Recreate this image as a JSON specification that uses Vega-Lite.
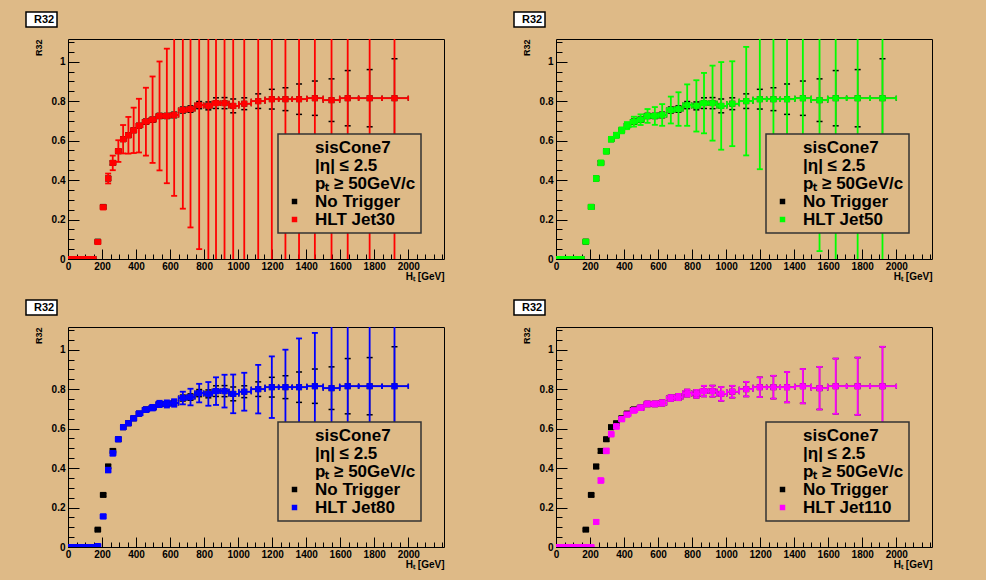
{
"$schema": "https://vega.github.io/schema/vega-lite/v6.json",
"autosize": {"type": "pad"},
"padding": {"left": 24, "top": 10, "right": 60, "bottom": 30},
"background": "#DEBA87",
"columns": 2,
"spacing": {"row": 68, "column": 112},
"bounds": "flush",
"resolve": {"scale": {"color": "independent", "strokeDash": "independent"}, "legend": {"color": "independent", "strokeDash": "independent"}},
"datasets": {"all": [
{"s":"No Trigger","x":10,"xl":0,"xh":20,"y":0,"yl":0,"yh":0},
{"s":"No Trigger","x":30,"xl":20,"xh":40,"y":0,"yl":0,"yh":0},
{"s":"No Trigger","x":50,"xl":40,"xh":60,"y":0,"yl":0,"yh":0},
{"s":"No Trigger","x":70,"xl":60,"xh":80,"y":0,"yl":0,"yh":0},
{"s":"No Trigger","x":90,"xl":80,"xh":100,"y":0,"yl":0,"yh":0},
{"s":"No Trigger","x":110,"xl":100,"xh":120,"y":0,"yl":0,"yh":0},
{"s":"No Trigger","x":130,"xl":120,"xh":140,"y":0,"yl":0,"yh":0},
{"s":"No Trigger","x":150,"xl":140,"xh":160,"y":0,"yl":0,"yh":0},
{"s":"No Trigger","x":175,"xl":160,"xh":191,"y":0.088,"yl":0.083,"yh":0.093},
{"s":"No Trigger","x":207,"xl":191,"xh":222,"y":0.264,"yl":0.256,"yh":0.272},
{"s":"No Trigger","x":236,"xl":222,"xh":250,"y":0.408,"yl":0.398,"yh":0.418},
{"s":"No Trigger","x":263,"xl":250,"xh":280,"y":0.487,"yl":0.477,"yh":0.497},
{"s":"No Trigger","x":296,"xl":280,"xh":310,"y":0.546,"yl":0.536,"yh":0.556},
{"s":"No Trigger","x":324,"xl":310,"xh":340,"y":0.607,"yl":0.597,"yh":0.617},
{"s":"No Trigger","x":355,"xl":340,"xh":370,"y":0.627,"yl":0.617,"yh":0.637},
{"s":"No Trigger","x":386,"xl":370,"xh":402,"y":0.652,"yl":0.642,"yh":0.662},
{"s":"No Trigger","x":417,"xl":402,"xh":438,"y":0.676,"yl":0.666,"yh":0.686},
{"s":"No Trigger","x":458,"xl":438,"xh":478,"y":0.696,"yl":0.684,"yh":0.708},
{"s":"No Trigger","x":497,"xl":478,"xh":518,"y":0.706,"yl":0.694,"yh":0.718},
{"s":"No Trigger","x":538,"xl":518,"xh":560,"y":0.725,"yl":0.712,"yh":0.738},
{"s":"No Trigger","x":581,"xl":560,"xh":602,"y":0.725,"yl":0.712,"yh":0.738},
{"s":"No Trigger","x":624,"xl":602,"xh":650,"y":0.73,"yl":0.716,"yh":0.744},
{"s":"No Trigger","x":675,"xl":650,"xh":698,"y":0.755,"yl":0.74,"yh":0.77},
{"s":"No Trigger","x":720,"xl":698,"xh":746,"y":0.76,"yl":0.744,"yh":0.776},
{"s":"No Trigger","x":771,"xl":746,"xh":798,"y":0.78,"yl":0.762,"yh":0.798},
{"s":"No Trigger","x":825,"xl":798,"xh":848,"y":0.776,"yl":0.756,"yh":0.796},
{"s":"No Trigger","x":870,"xl":848,"xh":895,"y":0.79,"yl":0.763,"yh":0.817},
{"s":"No Trigger","x":920,"xl":895,"xh":946,"y":0.79,"yl":0.762,"yh":0.818},
{"s":"No Trigger","x":971,"xl":946,"xh":1004,"y":0.776,"yl":0.741,"yh":0.811},
{"s":"No Trigger","x":1036,"xl":1004,"xh":1077,"y":0.787,"yl":0.757,"yh":0.817},
{"s":"No Trigger","x":1118,"xl":1077,"xh":1158,"y":0.8,"yl":0.763,"yh":0.837},
{"s":"No Trigger","x":1198,"xl":1158,"xh":1238,"y":0.81,"yl":0.76,"yh":0.86},
{"s":"No Trigger","x":1278,"xl":1238,"xh":1318,"y":0.81,"yl":0.752,"yh":0.868},
{"s":"No Trigger","x":1358,"xl":1318,"xh":1404,"y":0.81,"yl":0.733,"yh":0.887},
{"s":"No Trigger","x":1451,"xl":1404,"xh":1500,"y":0.815,"yl":0.728,"yh":0.902},
{"s":"No Trigger","x":1549,"xl":1500,"xh":1597,"y":0.805,"yl":0.697,"yh":0.913},
{"s":"No Trigger","x":1644,"xl":1597,"xh":1708,"y":0.815,"yl":0.675,"yh":0.955},
{"s":"No Trigger","x":1773,"xl":1708,"xh":1846,"y":0.815,"yl":0.67,"yh":0.96},
{"s":"No Trigger","x":1919,"xl":1846,"xh":2000,"y":0.815,"yl":0.615,"yh":1.015},

{"s":"HLT Jet30","x":10,"xl":0,"xh":20,"y":0,"yl":0,"yh":0},
{"s":"HLT Jet30","x":30,"xl":20,"xh":40,"y":0,"yl":0,"yh":0},
{"s":"HLT Jet30","x":50,"xl":40,"xh":60,"y":0,"yl":0,"yh":0},
{"s":"HLT Jet30","x":70,"xl":60,"xh":80,"y":0,"yl":0,"yh":0},
{"s":"HLT Jet30","x":90,"xl":80,"xh":100,"y":0,"yl":0,"yh":0},
{"s":"HLT Jet30","x":110,"xl":100,"xh":120,"y":0,"yl":0,"yh":0},
{"s":"HLT Jet30","x":130,"xl":120,"xh":140,"y":0,"yl":0,"yh":0},
{"s":"HLT Jet30","x":150,"xl":140,"xh":160,"y":0,"yl":0,"yh":0},
{"s":"HLT Jet30","x":175,"xl":160,"xh":191,"y":0.086,"yl":0.08,"yh":0.092},
{"s":"HLT Jet30","x":207,"xl":191,"xh":222,"y":0.262,"yl":0.252,"yh":0.272},
{"s":"HLT Jet30","x":236,"xl":222,"xh":250,"y":0.408,"yl":0.383,"yh":0.433},
{"s":"HLT Jet30","x":263,"xl":250,"xh":280,"y":0.487,"yl":0.45,"yh":0.524},
{"s":"HLT Jet30","x":296,"xl":280,"xh":310,"y":0.547,"yl":0.492,"yh":0.602},
{"s":"HLT Jet30","x":324,"xl":310,"xh":340,"y":0.607,"yl":0.535,"yh":0.679},
{"s":"HLT Jet30","x":355,"xl":340,"xh":370,"y":0.627,"yl":0.534,"yh":0.72},
{"s":"HLT Jet30","x":386,"xl":370,"xh":402,"y":0.652,"yl":0.537,"yh":0.767},
{"s":"HLT Jet30","x":417,"xl":402,"xh":438,"y":0.676,"yl":0.54,"yh":0.812},
{"s":"HLT Jet30","x":458,"xl":438,"xh":478,"y":0.696,"yl":0.524,"yh":0.868},
{"s":"HLT Jet30","x":497,"xl":478,"xh":518,"y":0.706,"yl":0.487,"yh":0.925},
{"s":"HLT Jet30","x":538,"xl":518,"xh":560,"y":0.725,"yl":0.449,"yh":1.001},
{"s":"HLT Jet30","x":581,"xl":560,"xh":602,"y":0.725,"yl":0.384,"yh":1.066},
{"s":"HLT Jet30","x":624,"xl":602,"xh":650,"y":0.73,"yl":0.32,"yh":1.14},
{"s":"HLT Jet30","x":675,"xl":650,"xh":698,"y":0.755,"yl":0.255,"yh":1.255},
{"s":"HLT Jet30","x":720,"xl":698,"xh":746,"y":0.76,"yl":0.16,"yh":1.36},
{"s":"HLT Jet30","x":771,"xl":746,"xh":798,"y":0.78,"yl":0.05,"yh":1.51},
{"s":"HLT Jet30","x":825,"xl":798,"xh":848,"y":0.776,"yl":-0.1,"yh":1.7},
{"s":"HLT Jet30","x":870,"xl":848,"xh":895,"y":0.79,"yl":-0.15,"yh":1.73},
{"s":"HLT Jet30","x":920,"xl":895,"xh":946,"y":0.79,"yl":-0.2,"yh":1.78},
{"s":"HLT Jet30","x":971,"xl":946,"xh":1004,"y":0.776,"yl":-0.25,"yh":1.8},
{"s":"HLT Jet30","x":1036,"xl":1004,"xh":1077,"y":0.787,"yl":-0.25,"yh":1.82},
{"s":"HLT Jet30","x":1118,"xl":1077,"xh":1158,"y":0.8,"yl":-0.3,"yh":1.9},
{"s":"HLT Jet30","x":1198,"xl":1158,"xh":1238,"y":0.81,"yl":-0.3,"yh":1.92},
{"s":"HLT Jet30","x":1278,"xl":1238,"xh":1318,"y":0.81,"yl":-0.35,"yh":1.97},
{"s":"HLT Jet30","x":1358,"xl":1318,"xh":1404,"y":0.81,"yl":-0.35,"yh":1.97},
{"s":"HLT Jet30","x":1451,"xl":1404,"xh":1500,"y":0.815,"yl":-0.4,"yh":2.03},
{"s":"HLT Jet30","x":1549,"xl":1500,"xh":1597,"y":0.805,"yl":-0.4,"yh":2.01},
{"s":"HLT Jet30","x":1644,"xl":1597,"xh":1708,"y":0.815,"yl":-0.45,"yh":2.08},
{"s":"HLT Jet30","x":1773,"xl":1708,"xh":1846,"y":0.815,"yl":-0.5,"yh":2.13},
{"s":"HLT Jet30","x":1919,"xl":1846,"xh":2000,"y":0.815,"yl":-0.6,"yh":2.23},

{"s":"HLT Jet50","x":10,"xl":0,"xh":20,"y":0,"yl":0,"yh":0},
{"s":"HLT Jet50","x":30,"xl":20,"xh":40,"y":0,"yl":0,"yh":0},
{"s":"HLT Jet50","x":50,"xl":40,"xh":60,"y":0,"yl":0,"yh":0},
{"s":"HLT Jet50","x":70,"xl":60,"xh":80,"y":0,"yl":0,"yh":0},
{"s":"HLT Jet50","x":90,"xl":80,"xh":100,"y":0,"yl":0,"yh":0},
{"s":"HLT Jet50","x":110,"xl":100,"xh":120,"y":0,"yl":0,"yh":0},
{"s":"HLT Jet50","x":130,"xl":120,"xh":140,"y":0,"yl":0,"yh":0},
{"s":"HLT Jet50","x":150,"xl":140,"xh":160,"y":0,"yl":0,"yh":0},
{"s":"HLT Jet50","x":175,"xl":160,"xh":191,"y":0.088,"yl":0.082,"yh":0.094},
{"s":"HLT Jet50","x":207,"xl":191,"xh":222,"y":0.264,"yl":0.254,"yh":0.274},
{"s":"HLT Jet50","x":236,"xl":222,"xh":250,"y":0.408,"yl":0.396,"yh":0.42},
{"s":"HLT Jet50","x":263,"xl":250,"xh":280,"y":0.487,"yl":0.475,"yh":0.499},
{"s":"HLT Jet50","x":296,"xl":280,"xh":310,"y":0.546,"yl":0.534,"yh":0.558},
{"s":"HLT Jet50","x":324,"xl":310,"xh":340,"y":0.607,"yl":0.595,"yh":0.619},
{"s":"HLT Jet50","x":355,"xl":340,"xh":370,"y":0.627,"yl":0.614,"yh":0.64},
{"s":"HLT Jet50","x":386,"xl":370,"xh":402,"y":0.652,"yl":0.637,"yh":0.667},
{"s":"HLT Jet50","x":417,"xl":402,"xh":438,"y":0.676,"yl":0.658,"yh":0.694},
{"s":"HLT Jet50","x":458,"xl":438,"xh":478,"y":0.696,"yl":0.671,"yh":0.721},
{"s":"HLT Jet50","x":497,"xl":478,"xh":518,"y":0.706,"yl":0.679,"yh":0.733},
{"s":"HLT Jet50","x":538,"xl":518,"xh":560,"y":0.725,"yl":0.69,"yh":0.76},
{"s":"HLT Jet50","x":581,"xl":560,"xh":602,"y":0.725,"yl":0.68,"yh":0.77},
{"s":"HLT Jet50","x":624,"xl":602,"xh":650,"y":0.73,"yl":0.675,"yh":0.785},
{"s":"HLT Jet50","x":675,"xl":650,"xh":698,"y":0.755,"yl":0.687,"yh":0.823},
{"s":"HLT Jet50","x":720,"xl":698,"xh":746,"y":0.76,"yl":0.675,"yh":0.845},
{"s":"HLT Jet50","x":771,"xl":746,"xh":798,"y":0.78,"yl":0.675,"yh":0.885},
{"s":"HLT Jet50","x":825,"xl":798,"xh":848,"y":0.776,"yl":0.646,"yh":0.906},
{"s":"HLT Jet50","x":870,"xl":848,"xh":895,"y":0.79,"yl":0.637,"yh":0.943},
{"s":"HLT Jet50","x":920,"xl":895,"xh":946,"y":0.79,"yl":0.6,"yh":0.98},
{"s":"HLT Jet50","x":971,"xl":946,"xh":1004,"y":0.776,"yl":0.554,"yh":0.998},
{"s":"HLT Jet50","x":1036,"xl":1004,"xh":1077,"y":0.787,"yl":0.572,"yh":1.002},
{"s":"HLT Jet50","x":1118,"xl":1077,"xh":1158,"y":0.8,"yl":0.525,"yh":1.075},
{"s":"HLT Jet50","x":1198,"xl":1158,"xh":1238,"y":0.81,"yl":0.455,"yh":1.165},
{"s":"HLT Jet50","x":1278,"xl":1238,"xh":1318,"y":0.81,"yl":0.36,"yh":1.26},
{"s":"HLT Jet50","x":1358,"xl":1318,"xh":1404,"y":0.81,"yl":0.26,"yh":1.36},
{"s":"HLT Jet50","x":1451,"xl":1404,"xh":1500,"y":0.815,"yl":0.165,"yh":1.465},
{"s":"HLT Jet50","x":1549,"xl":1500,"xh":1597,"y":0.805,"yl":0.04,"yh":1.57},
{"s":"HLT Jet50","x":1644,"xl":1597,"xh":1708,"y":0.815,"yl":-0.085,"yh":1.715},
{"s":"HLT Jet50","x":1773,"xl":1708,"xh":1846,"y":0.815,"yl":-0.135,"yh":1.765},
{"s":"HLT Jet50","x":1919,"xl":1846,"xh":2000,"y":0.815,"yl":-0.285,"yh":1.915},

{"s":"HLT Jet80","x":10,"xl":0,"xh":20,"y":0,"yl":0,"yh":0},
{"s":"HLT Jet80","x":30,"xl":20,"xh":40,"y":0,"yl":0,"yh":0},
{"s":"HLT Jet80","x":50,"xl":40,"xh":60,"y":0,"yl":0,"yh":0},
{"s":"HLT Jet80","x":70,"xl":60,"xh":80,"y":0,"yl":0,"yh":0},
{"s":"HLT Jet80","x":90,"xl":80,"xh":100,"y":0,"yl":0,"yh":0},
{"s":"HLT Jet80","x":110,"xl":100,"xh":120,"y":0,"yl":0,"yh":0},
{"s":"HLT Jet80","x":130,"xl":120,"xh":140,"y":0,"yl":0,"yh":0},
{"s":"HLT Jet80","x":150,"xl":140,"xh":160,"y":0,"yl":0,"yh":0},
{"s":"HLT Jet80","x":175,"xl":160,"xh":191,"y":0.005,"yl":0.002,"yh":0.008},
{"s":"HLT Jet80","x":207,"xl":191,"xh":222,"y":0.155,"yl":0.145,"yh":0.165},
{"s":"HLT Jet80","x":236,"xl":222,"xh":250,"y":0.39,"yl":0.378,"yh":0.402},
{"s":"HLT Jet80","x":263,"xl":250,"xh":280,"y":0.475,"yl":0.463,"yh":0.487},
{"s":"HLT Jet80","x":296,"xl":280,"xh":310,"y":0.546,"yl":0.536,"yh":0.556},
{"s":"HLT Jet80","x":324,"xl":310,"xh":340,"y":0.607,"yl":0.597,"yh":0.617},
{"s":"HLT Jet80","x":355,"xl":340,"xh":370,"y":0.627,"yl":0.617,"yh":0.637},
{"s":"HLT Jet80","x":386,"xl":370,"xh":402,"y":0.652,"yl":0.642,"yh":0.662},
{"s":"HLT Jet80","x":417,"xl":402,"xh":438,"y":0.676,"yl":0.665,"yh":0.687},
{"s":"HLT Jet80","x":458,"xl":438,"xh":478,"y":0.696,"yl":0.684,"yh":0.708},
{"s":"HLT Jet80","x":497,"xl":478,"xh":518,"y":0.706,"yl":0.692,"yh":0.72},
{"s":"HLT Jet80","x":538,"xl":518,"xh":560,"y":0.725,"yl":0.709,"yh":0.741},
{"s":"HLT Jet80","x":581,"xl":560,"xh":602,"y":0.725,"yl":0.707,"yh":0.743},
{"s":"HLT Jet80","x":624,"xl":602,"xh":650,"y":0.73,"yl":0.711,"yh":0.749},
{"s":"HLT Jet80","x":675,"xl":650,"xh":698,"y":0.755,"yl":0.723,"yh":0.787},
{"s":"HLT Jet80","x":720,"xl":698,"xh":746,"y":0.76,"yl":0.718,"yh":0.802},
{"s":"HLT Jet80","x":771,"xl":746,"xh":798,"y":0.78,"yl":0.733,"yh":0.827},
{"s":"HLT Jet80","x":825,"xl":798,"xh":848,"y":0.776,"yl":0.716,"yh":0.836},
{"s":"HLT Jet80","x":870,"xl":848,"xh":895,"y":0.79,"yl":0.72,"yh":0.86},
{"s":"HLT Jet80","x":920,"xl":895,"xh":946,"y":0.79,"yl":0.707,"yh":0.873},
{"s":"HLT Jet80","x":971,"xl":946,"xh":1004,"y":0.776,"yl":0.678,"yh":0.874},
{"s":"HLT Jet80","x":1036,"xl":1004,"xh":1077,"y":0.787,"yl":0.691,"yh":0.883},
{"s":"HLT Jet80","x":1118,"xl":1077,"xh":1158,"y":0.8,"yl":0.677,"yh":0.923},
{"s":"HLT Jet80","x":1198,"xl":1158,"xh":1238,"y":0.81,"yl":0.654,"yh":0.966},
{"s":"HLT Jet80","x":1278,"xl":1238,"xh":1318,"y":0.81,"yl":0.62,"yh":1.0},
{"s":"HLT Jet80","x":1358,"xl":1318,"xh":1404,"y":0.81,"yl":0.563,"yh":1.057},
{"s":"HLT Jet80","x":1451,"xl":1404,"xh":1500,"y":0.815,"yl":0.545,"yh":1.085},
{"s":"HLT Jet80","x":1549,"xl":1500,"xh":1597,"y":0.805,"yl":0.455,"yh":1.155},
{"s":"HLT Jet80","x":1644,"xl":1597,"xh":1708,"y":0.815,"yl":0.415,"yh":1.215},
{"s":"HLT Jet80","x":1773,"xl":1708,"xh":1846,"y":0.815,"yl":0.395,"yh":1.235},
{"s":"HLT Jet80","x":1919,"xl":1846,"xh":2000,"y":0.815,"yl":0.345,"yh":1.285},

{"s":"HLT Jet110","x":10,"xl":0,"xh":20,"y":0,"yl":0,"yh":0},
{"s":"HLT Jet110","x":30,"xl":20,"xh":40,"y":0,"yl":0,"yh":0},
{"s":"HLT Jet110","x":50,"xl":40,"xh":60,"y":0,"yl":0,"yh":0},
{"s":"HLT Jet110","x":70,"xl":60,"xh":80,"y":0,"yl":0,"yh":0},
{"s":"HLT Jet110","x":90,"xl":80,"xh":100,"y":0,"yl":0,"yh":0},
{"s":"HLT Jet110","x":110,"xl":100,"xh":120,"y":0,"yl":0,"yh":0},
{"s":"HLT Jet110","x":130,"xl":120,"xh":140,"y":0,"yl":0,"yh":0},
{"s":"HLT Jet110","x":150,"xl":140,"xh":160,"y":0,"yl":0,"yh":0},
{"s":"HLT Jet110","x":175,"xl":160,"xh":191,"y":0,"yl":0,"yh":0},
{"s":"HLT Jet110","x":207,"xl":191,"xh":222,"y":0,"yl":0,"yh":0},
{"s":"HLT Jet110","x":236,"xl":222,"xh":250,"y":0.127,"yl":0.117,"yh":0.137},
{"s":"HLT Jet110","x":263,"xl":250,"xh":280,"y":0.337,"yl":0.325,"yh":0.349},
{"s":"HLT Jet110","x":296,"xl":280,"xh":310,"y":0.487,"yl":0.475,"yh":0.499},
{"s":"HLT Jet110","x":324,"xl":310,"xh":340,"y":0.572,"yl":0.56,"yh":0.584},
{"s":"HLT Jet110","x":355,"xl":340,"xh":370,"y":0.611,"yl":0.599,"yh":0.623},
{"s":"HLT Jet110","x":386,"xl":370,"xh":402,"y":0.648,"yl":0.637,"yh":0.659},
{"s":"HLT Jet110","x":417,"xl":402,"xh":438,"y":0.671,"yl":0.66,"yh":0.682},
{"s":"HLT Jet110","x":458,"xl":438,"xh":478,"y":0.692,"yl":0.68,"yh":0.704},
{"s":"HLT Jet110","x":497,"xl":478,"xh":518,"y":0.706,"yl":0.694,"yh":0.718},
{"s":"HLT Jet110","x":538,"xl":518,"xh":560,"y":0.725,"yl":0.712,"yh":0.738},
{"s":"HLT Jet110","x":581,"xl":560,"xh":602,"y":0.725,"yl":0.712,"yh":0.738},
{"s":"HLT Jet110","x":624,"xl":602,"xh":650,"y":0.73,"yl":0.716,"yh":0.744},
{"s":"HLT Jet110","x":675,"xl":650,"xh":698,"y":0.755,"yl":0.74,"yh":0.77},
{"s":"HLT Jet110","x":720,"xl":698,"xh":746,"y":0.76,"yl":0.744,"yh":0.776},
{"s":"HLT Jet110","x":771,"xl":746,"xh":798,"y":0.78,"yl":0.762,"yh":0.798},
{"s":"HLT Jet110","x":825,"xl":798,"xh":848,"y":0.776,"yl":0.756,"yh":0.796},
{"s":"HLT Jet110","x":870,"xl":848,"xh":895,"y":0.79,"yl":0.763,"yh":0.817},
{"s":"HLT Jet110","x":920,"xl":895,"xh":946,"y":0.79,"yl":0.762,"yh":0.818},
{"s":"HLT Jet110","x":971,"xl":946,"xh":1004,"y":0.776,"yl":0.741,"yh":0.811},
{"s":"HLT Jet110","x":1036,"xl":1004,"xh":1077,"y":0.787,"yl":0.757,"yh":0.817},
{"s":"HLT Jet110","x":1118,"xl":1077,"xh":1158,"y":0.8,"yl":0.763,"yh":0.837},
{"s":"HLT Jet110","x":1198,"xl":1158,"xh":1238,"y":0.81,"yl":0.76,"yh":0.86},
{"s":"HLT Jet110","x":1278,"xl":1238,"xh":1318,"y":0.81,"yl":0.752,"yh":0.868},
{"s":"HLT Jet110","x":1358,"xl":1318,"xh":1404,"y":0.81,"yl":0.733,"yh":0.887},
{"s":"HLT Jet110","x":1451,"xl":1404,"xh":1500,"y":0.815,"yl":0.728,"yh":0.902},
{"s":"HLT Jet110","x":1549,"xl":1500,"xh":1597,"y":0.805,"yl":0.697,"yh":0.913},
{"s":"HLT Jet110","x":1644,"xl":1597,"xh":1708,"y":0.815,"yl":0.675,"yh":0.955},
{"s":"HLT Jet110","x":1773,"xl":1708,"xh":1846,"y":0.815,"yl":0.67,"yh":0.96},
{"s":"HLT Jet110","x":1919,"xl":1846,"xh":2000,"y":0.815,"yl":0.615,"yh":1.015}
]},
"concat": [
{
 "width": 376, "height": 220,
 "data": {"name": "all"},
 "resolve": {"axis": {"x": "independent", "y": "independent"}},
 "encoding": {
  "color": {"field": "s", "type": "nominal",
   "scale": {"domain": ["sisCone7", "|η| ≤ 2.5", "pₜ ≥ 50GeV/c", "No Trigger", "HLT Jet30"], "range": ["transparent", "transparent", "transparent", "#000000", "#FF0000"]},
   "legend": {"orient": "none", "legendX": 210, "legendY": 95, "title": null, "fillColor": "#DEBA87", "strokeColor": "#333333", "padding": 5, "rowPadding": 0, "symbolType": "square", "symbolSize": 30, "symbolStrokeWidth": 0, "symbolOffset": 3, "labelOffset": 12, "labelFontSize": 17, "labelFontWeight": "bold", "labelColor": "black", "labelLimit": 300}}},
 "layer": [
  {"transform": [{"filter": "datum.s == 'No Trigger'"}],
   "resolve": {"axis": {"x": "independent", "y": "independent"}},
   "layer": [
    {"mark": {"type": "rule", "clip": true, "strokeWidth": 1.3},
     "encoding": {
      "x": {"field": "x", "type": "quantitative", "scale": {"domain": [0, 2210], "nice": false, "zero": false},
        "axis": {"title": "Hₜ [GeV]", "values": [0,200,400,600,800,1000,1200,1400,1600,1800,2000], "format": "d", "tickSize": -10, "labelPadding": 12}},
      "y": {"field": "yl", "type": "quantitative", "scale": {"domain": [0, 1.115], "nice": false, "zero": false},
        "axis": {"title": "R32", "values": [0,0.2,0.4,0.6,0.8,1], "format": "~g", "tickSize": -11, "labelPadding": 14}},
      "y2": {"field": "yh"},
      "strokeDash": {"datum": "R32", "scale": {"domain": ["R32"], "range": [[1, 0]]},
        "legend": {"orient": "none", "legendX": -42, "legendY": -27, "title": null, "fillColor": "white", "strokeColor": "black", "padding": 2, "symbolSize": 0, "symbolStrokeWidth": 0, "symbolOpacity": 0, "symbolOffset": 0, "labelOffset": -5, "labelFontSize": 11, "labelFontWeight": "bold", "labelColor": "black"}}}},
    {"mark": {"type": "rule", "clip": true, "strokeWidth": 1.3},
     "encoding": {"x": {"field": "xl", "type": "quantitative", "axis": {"orient": "bottom", "title": null, "labels": false, "tickSize": -5, "values": [0,50,100,150,200,250,300,350,400,450,500,550,600,650,700,750,800,850,900,950,1000,1050,1100,1150,1200,1250,1300,1350,1400,1450,1500,1550,1600,1650,1700,1750,1800,1850,1900,1950,2000,2050,2100,2150,2200]}}, "x2": {"field": "xh"},
      "y": {"field": "y", "type": "quantitative", "axis": {"orient": "left", "title": null, "labels": false, "tickSize": -6, "values": [0,0.05,0.1,0.15,0.2,0.25,0.3,0.35,0.4,0.45,0.5,0.55,0.6,0.65,0.7,0.75,0.8,0.85,0.9,0.95,1,1.05,1.1]}}}},
    {"transform": [{"fold": ["yl", "yh"], "as": ["k", "yc"]}],
     "mark": {"type": "tick", "orient": "horizontal", "clip": true, "size": 6, "thickness": 1.5, "opacity": 1},
     "encoding": {"x": {"field": "x", "type": "quantitative", "axis": null}, "y": {"field": "yc", "type": "quantitative", "axis": null}}},
    {"transform": [{"fold": ["xl", "xh"], "as": ["k", "xc"]}],
     "mark": {"type": "tick", "orient": "vertical", "clip": true, "size": 5, "thickness": 1.3, "opacity": 1},
     "encoding": {"x": {"field": "xc", "type": "quantitative", "axis": null}, "y": {"field": "y", "type": "quantitative", "axis": null}}},
    {"mark": {"type": "square", "clip": true, "size": 36, "opacity": 1},
     "encoding": {"x": {"field": "x", "type": "quantitative", "axis": null}, "y": {"field": "y", "type": "quantitative", "axis": null}}}
   ]},
  {"transform": [{"filter": "datum.s == 'HLT Jet30'"}],
   "layer": [
    {"mark": {"type": "rule", "clip": true, "strokeWidth": 1.8},
     "encoding": {"x": {"field": "x", "type": "quantitative", "axis": null}, "y": {"field": "yl", "type": "quantitative", "axis": null}, "y2": {"field": "yh"}}},
    {"mark": {"type": "rule", "clip": true, "strokeWidth": 1.8},
     "encoding": {"x": {"field": "xl", "type": "quantitative", "axis": null}, "x2": {"field": "xh"}, "y": {"field": "y", "type": "quantitative", "axis": null}}},
    {"transform": [{"fold": ["yl", "yh"], "as": ["k", "yc"]}],
     "mark": {"type": "tick", "orient": "horizontal", "clip": true, "size": 6, "thickness": 1.8, "opacity": 1},
     "encoding": {"x": {"field": "x", "type": "quantitative", "axis": null}, "y": {"field": "yc", "type": "quantitative", "axis": null}}},
    {"transform": [{"fold": ["xl", "xh"], "as": ["k", "xc"]}],
     "mark": {"type": "tick", "orient": "vertical", "clip": true, "size": 5, "thickness": 1.6, "opacity": 1},
     "encoding": {"x": {"field": "xc", "type": "quantitative", "axis": null}, "y": {"field": "y", "type": "quantitative", "axis": null}}},
    {"mark": {"type": "square", "clip": true, "size": 36, "opacity": 1},
     "encoding": {"x": {"field": "x", "type": "quantitative", "axis": null}, "y": {"field": "y", "type": "quantitative", "axis": null}}}
   ]}
 ]
},
{
 "width": 376, "height": 220,
 "data": {"name": "all"},
 "resolve": {"axis": {"x": "independent", "y": "independent"}},
 "encoding": {
  "color": {"field": "s", "type": "nominal",
   "scale": {"domain": ["sisCone7", "|η| ≤ 2.5", "pₜ ≥ 50GeV/c", "No Trigger", "HLT Jet50"], "range": ["transparent", "transparent", "transparent", "#000000", "#00FF00"]},
   "legend": {"orient": "none", "legendX": 210, "legendY": 95, "title": null, "fillColor": "#DEBA87", "strokeColor": "#333333", "padding": 5, "rowPadding": 0, "symbolType": "square", "symbolSize": 30, "symbolStrokeWidth": 0, "symbolOffset": 3, "labelOffset": 12, "labelFontSize": 17, "labelFontWeight": "bold", "labelColor": "black", "labelLimit": 300}}},
 "layer": [
  {"transform": [{"filter": "datum.s == 'No Trigger'"}],
   "resolve": {"axis": {"x": "independent", "y": "independent"}},
   "layer": [
    {"mark": {"type": "rule", "clip": true, "strokeWidth": 1.3},
     "encoding": {
      "x": {"field": "x", "type": "quantitative", "scale": {"domain": [0, 2210], "nice": false, "zero": false},
        "axis": {"title": "Hₜ [GeV]", "values": [0,200,400,600,800,1000,1200,1400,1600,1800,2000], "format": "d", "tickSize": -10, "labelPadding": 12}},
      "y": {"field": "yl", "type": "quantitative", "scale": {"domain": [0, 1.115], "nice": false, "zero": false},
        "axis": {"title": "R32", "values": [0,0.2,0.4,0.6,0.8,1], "format": "~g", "tickSize": -11, "labelPadding": 14}},
      "y2": {"field": "yh"},
      "strokeDash": {"datum": "R32", "scale": {"domain": ["R32"], "range": [[1, 0]]},
        "legend": {"orient": "none", "legendX": -42, "legendY": -27, "title": null, "fillColor": "white", "strokeColor": "black", "padding": 2, "symbolSize": 0, "symbolStrokeWidth": 0, "symbolOpacity": 0, "symbolOffset": 0, "labelOffset": -5, "labelFontSize": 11, "labelFontWeight": "bold", "labelColor": "black"}}}},
    {"mark": {"type": "rule", "clip": true, "strokeWidth": 1.3},
     "encoding": {"x": {"field": "xl", "type": "quantitative", "axis": {"orient": "bottom", "title": null, "labels": false, "tickSize": -5, "values": [0,50,100,150,200,250,300,350,400,450,500,550,600,650,700,750,800,850,900,950,1000,1050,1100,1150,1200,1250,1300,1350,1400,1450,1500,1550,1600,1650,1700,1750,1800,1850,1900,1950,2000,2050,2100,2150,2200]}}, "x2": {"field": "xh"},
      "y": {"field": "y", "type": "quantitative", "axis": {"orient": "left", "title": null, "labels": false, "tickSize": -6, "values": [0,0.05,0.1,0.15,0.2,0.25,0.3,0.35,0.4,0.45,0.5,0.55,0.6,0.65,0.7,0.75,0.8,0.85,0.9,0.95,1,1.05,1.1]}}}},
    {"transform": [{"fold": ["yl", "yh"], "as": ["k", "yc"]}],
     "mark": {"type": "tick", "orient": "horizontal", "clip": true, "size": 6, "thickness": 1.5, "opacity": 1},
     "encoding": {"x": {"field": "x", "type": "quantitative", "axis": null}, "y": {"field": "yc", "type": "quantitative", "axis": null}}},
    {"transform": [{"fold": ["xl", "xh"], "as": ["k", "xc"]}],
     "mark": {"type": "tick", "orient": "vertical", "clip": true, "size": 5, "thickness": 1.3, "opacity": 1},
     "encoding": {"x": {"field": "xc", "type": "quantitative", "axis": null}, "y": {"field": "y", "type": "quantitative", "axis": null}}},
    {"mark": {"type": "square", "clip": true, "size": 36, "opacity": 1},
     "encoding": {"x": {"field": "x", "type": "quantitative", "axis": null}, "y": {"field": "y", "type": "quantitative", "axis": null}}}
   ]},
  {"transform": [{"filter": "datum.s == 'HLT Jet50'"}],
   "layer": [
    {"mark": {"type": "rule", "clip": true, "strokeWidth": 1.8},
     "encoding": {"x": {"field": "x", "type": "quantitative", "axis": null}, "y": {"field": "yl", "type": "quantitative", "axis": null}, "y2": {"field": "yh"}}},
    {"mark": {"type": "rule", "clip": true, "strokeWidth": 1.8},
     "encoding": {"x": {"field": "xl", "type": "quantitative", "axis": null}, "x2": {"field": "xh"}, "y": {"field": "y", "type": "quantitative", "axis": null}}},
    {"transform": [{"fold": ["yl", "yh"], "as": ["k", "yc"]}],
     "mark": {"type": "tick", "orient": "horizontal", "clip": true, "size": 6, "thickness": 1.8, "opacity": 1},
     "encoding": {"x": {"field": "x", "type": "quantitative", "axis": null}, "y": {"field": "yc", "type": "quantitative", "axis": null}}},
    {"transform": [{"fold": ["xl", "xh"], "as": ["k", "xc"]}],
     "mark": {"type": "tick", "orient": "vertical", "clip": true, "size": 5, "thickness": 1.6, "opacity": 1},
     "encoding": {"x": {"field": "xc", "type": "quantitative", "axis": null}, "y": {"field": "y", "type": "quantitative", "axis": null}}},
    {"mark": {"type": "square", "clip": true, "size": 36, "opacity": 1},
     "encoding": {"x": {"field": "x", "type": "quantitative", "axis": null}, "y": {"field": "y", "type": "quantitative", "axis": null}}}
   ]}
 ]
},
{
 "width": 376, "height": 220,
 "data": {"name": "all"},
 "resolve": {"axis": {"x": "independent", "y": "independent"}},
 "encoding": {
  "color": {"field": "s", "type": "nominal",
   "scale": {"domain": ["sisCone7", "|η| ≤ 2.5", "pₜ ≥ 50GeV/c", "No Trigger", "HLT Jet80"], "range": ["transparent", "transparent", "transparent", "#000000", "#0000FF"]},
   "legend": {"orient": "none", "legendX": 210, "legendY": 95, "title": null, "fillColor": "#DEBA87", "strokeColor": "#333333", "padding": 5, "rowPadding": 0, "symbolType": "square", "symbolSize": 30, "symbolStrokeWidth": 0, "symbolOffset": 3, "labelOffset": 12, "labelFontSize": 17, "labelFontWeight": "bold", "labelColor": "black", "labelLimit": 300}}},
 "layer": [
  {"transform": [{"filter": "datum.s == 'No Trigger'"}],
   "resolve": {"axis": {"x": "independent", "y": "independent"}},
   "layer": [
    {"mark": {"type": "rule", "clip": true, "strokeWidth": 1.3},
     "encoding": {
      "x": {"field": "x", "type": "quantitative", "scale": {"domain": [0, 2210], "nice": false, "zero": false},
        "axis": {"title": "Hₜ [GeV]", "values": [0,200,400,600,800,1000,1200,1400,1600,1800,2000], "format": "d", "tickSize": -10, "labelPadding": 12}},
      "y": {"field": "yl", "type": "quantitative", "scale": {"domain": [0, 1.115], "nice": false, "zero": false},
        "axis": {"title": "R32", "values": [0,0.2,0.4,0.6,0.8,1], "format": "~g", "tickSize": -11, "labelPadding": 14}},
      "y2": {"field": "yh"},
      "strokeDash": {"datum": "R32", "scale": {"domain": ["R32"], "range": [[1, 0]]},
        "legend": {"orient": "none", "legendX": -42, "legendY": -27, "title": null, "fillColor": "white", "strokeColor": "black", "padding": 2, "symbolSize": 0, "symbolStrokeWidth": 0, "symbolOpacity": 0, "symbolOffset": 0, "labelOffset": -5, "labelFontSize": 11, "labelFontWeight": "bold", "labelColor": "black"}}}},
    {"mark": {"type": "rule", "clip": true, "strokeWidth": 1.3},
     "encoding": {"x": {"field": "xl", "type": "quantitative", "axis": {"orient": "bottom", "title": null, "labels": false, "tickSize": -5, "values": [0,50,100,150,200,250,300,350,400,450,500,550,600,650,700,750,800,850,900,950,1000,1050,1100,1150,1200,1250,1300,1350,1400,1450,1500,1550,1600,1650,1700,1750,1800,1850,1900,1950,2000,2050,2100,2150,2200]}}, "x2": {"field": "xh"},
      "y": {"field": "y", "type": "quantitative", "axis": {"orient": "left", "title": null, "labels": false, "tickSize": -6, "values": [0,0.05,0.1,0.15,0.2,0.25,0.3,0.35,0.4,0.45,0.5,0.55,0.6,0.65,0.7,0.75,0.8,0.85,0.9,0.95,1,1.05,1.1]}}}},
    {"transform": [{"fold": ["yl", "yh"], "as": ["k", "yc"]}],
     "mark": {"type": "tick", "orient": "horizontal", "clip": true, "size": 6, "thickness": 1.5, "opacity": 1},
     "encoding": {"x": {"field": "x", "type": "quantitative", "axis": null}, "y": {"field": "yc", "type": "quantitative", "axis": null}}},
    {"transform": [{"fold": ["xl", "xh"], "as": ["k", "xc"]}],
     "mark": {"type": "tick", "orient": "vertical", "clip": true, "size": 5, "thickness": 1.3, "opacity": 1},
     "encoding": {"x": {"field": "xc", "type": "quantitative", "axis": null}, "y": {"field": "y", "type": "quantitative", "axis": null}}},
    {"mark": {"type": "square", "clip": true, "size": 36, "opacity": 1},
     "encoding": {"x": {"field": "x", "type": "quantitative", "axis": null}, "y": {"field": "y", "type": "quantitative", "axis": null}}}
   ]},
  {"transform": [{"filter": "datum.s == 'HLT Jet80'"}],
   "layer": [
    {"mark": {"type": "rule", "clip": true, "strokeWidth": 1.8},
     "encoding": {"x": {"field": "x", "type": "quantitative", "axis": null}, "y": {"field": "yl", "type": "quantitative", "axis": null}, "y2": {"field": "yh"}}},
    {"mark": {"type": "rule", "clip": true, "strokeWidth": 1.8},
     "encoding": {"x": {"field": "xl", "type": "quantitative", "axis": null}, "x2": {"field": "xh"}, "y": {"field": "y", "type": "quantitative", "axis": null}}},
    {"transform": [{"fold": ["yl", "yh"], "as": ["k", "yc"]}],
     "mark": {"type": "tick", "orient": "horizontal", "clip": true, "size": 6, "thickness": 1.8, "opacity": 1},
     "encoding": {"x": {"field": "x", "type": "quantitative", "axis": null}, "y": {"field": "yc", "type": "quantitative", "axis": null}}},
    {"transform": [{"fold": ["xl", "xh"], "as": ["k", "xc"]}],
     "mark": {"type": "tick", "orient": "vertical", "clip": true, "size": 5, "thickness": 1.6, "opacity": 1},
     "encoding": {"x": {"field": "xc", "type": "quantitative", "axis": null}, "y": {"field": "y", "type": "quantitative", "axis": null}}},
    {"mark": {"type": "square", "clip": true, "size": 36, "opacity": 1},
     "encoding": {"x": {"field": "x", "type": "quantitative", "axis": null}, "y": {"field": "y", "type": "quantitative", "axis": null}}}
   ]}
 ]
},
{
 "width": 376, "height": 220,
 "data": {"name": "all"},
 "resolve": {"axis": {"x": "independent", "y": "independent"}},
 "encoding": {
  "color": {"field": "s", "type": "nominal",
   "scale": {"domain": ["sisCone7", "|η| ≤ 2.5", "pₜ ≥ 50GeV/c", "No Trigger", "HLT Jet110"], "range": ["transparent", "transparent", "transparent", "#000000", "#FF00FF"]},
   "legend": {"orient": "none", "legendX": 210, "legendY": 95, "title": null, "fillColor": "#DEBA87", "strokeColor": "#333333", "padding": 5, "rowPadding": 0, "symbolType": "square", "symbolSize": 30, "symbolStrokeWidth": 0, "symbolOffset": 3, "labelOffset": 12, "labelFontSize": 17, "labelFontWeight": "bold", "labelColor": "black", "labelLimit": 300}}},
 "layer": [
  {"transform": [{"filter": "datum.s == 'No Trigger'"}],
   "resolve": {"axis": {"x": "independent", "y": "independent"}},
   "layer": [
    {"mark": {"type": "rule", "clip": true, "strokeWidth": 1.3},
     "encoding": {
      "x": {"field": "x", "type": "quantitative", "scale": {"domain": [0, 2210], "nice": false, "zero": false},
        "axis": {"title": "Hₜ [GeV]", "values": [0,200,400,600,800,1000,1200,1400,1600,1800,2000], "format": "d", "tickSize": -10, "labelPadding": 12}},
      "y": {"field": "yl", "type": "quantitative", "scale": {"domain": [0, 1.115], "nice": false, "zero": false},
        "axis": {"title": "R32", "values": [0,0.2,0.4,0.6,0.8,1], "format": "~g", "tickSize": -11, "labelPadding": 14}},
      "y2": {"field": "yh"},
      "strokeDash": {"datum": "R32", "scale": {"domain": ["R32"], "range": [[1, 0]]},
        "legend": {"orient": "none", "legendX": -42, "legendY": -27, "title": null, "fillColor": "white", "strokeColor": "black", "padding": 2, "symbolSize": 0, "symbolStrokeWidth": 0, "symbolOpacity": 0, "symbolOffset": 0, "labelOffset": -5, "labelFontSize": 11, "labelFontWeight": "bold", "labelColor": "black"}}}},
    {"mark": {"type": "rule", "clip": true, "strokeWidth": 1.3},
     "encoding": {"x": {"field": "xl", "type": "quantitative", "axis": {"orient": "bottom", "title": null, "labels": false, "tickSize": -5, "values": [0,50,100,150,200,250,300,350,400,450,500,550,600,650,700,750,800,850,900,950,1000,1050,1100,1150,1200,1250,1300,1350,1400,1450,1500,1550,1600,1650,1700,1750,1800,1850,1900,1950,2000,2050,2100,2150,2200]}}, "x2": {"field": "xh"},
      "y": {"field": "y", "type": "quantitative", "axis": {"orient": "left", "title": null, "labels": false, "tickSize": -6, "values": [0,0.05,0.1,0.15,0.2,0.25,0.3,0.35,0.4,0.45,0.5,0.55,0.6,0.65,0.7,0.75,0.8,0.85,0.9,0.95,1,1.05,1.1]}}}},
    {"transform": [{"fold": ["yl", "yh"], "as": ["k", "yc"]}],
     "mark": {"type": "tick", "orient": "horizontal", "clip": true, "size": 6, "thickness": 1.5, "opacity": 1},
     "encoding": {"x": {"field": "x", "type": "quantitative", "axis": null}, "y": {"field": "yc", "type": "quantitative", "axis": null}}},
    {"transform": [{"fold": ["xl", "xh"], "as": ["k", "xc"]}],
     "mark": {"type": "tick", "orient": "vertical", "clip": true, "size": 5, "thickness": 1.3, "opacity": 1},
     "encoding": {"x": {"field": "xc", "type": "quantitative", "axis": null}, "y": {"field": "y", "type": "quantitative", "axis": null}}},
    {"mark": {"type": "square", "clip": true, "size": 36, "opacity": 1},
     "encoding": {"x": {"field": "x", "type": "quantitative", "axis": null}, "y": {"field": "y", "type": "quantitative", "axis": null}}}
   ]},
  {"transform": [{"filter": "datum.s == 'HLT Jet110'"}],
   "layer": [
    {"mark": {"type": "rule", "clip": true, "strokeWidth": 1.8},
     "encoding": {"x": {"field": "x", "type": "quantitative", "axis": null}, "y": {"field": "yl", "type": "quantitative", "axis": null}, "y2": {"field": "yh"}}},
    {"mark": {"type": "rule", "clip": true, "strokeWidth": 1.8},
     "encoding": {"x": {"field": "xl", "type": "quantitative", "axis": null}, "x2": {"field": "xh"}, "y": {"field": "y", "type": "quantitative", "axis": null}}},
    {"transform": [{"fold": ["yl", "yh"], "as": ["k", "yc"]}],
     "mark": {"type": "tick", "orient": "horizontal", "clip": true, "size": 6, "thickness": 1.8, "opacity": 1},
     "encoding": {"x": {"field": "x", "type": "quantitative", "axis": null}, "y": {"field": "yc", "type": "quantitative", "axis": null}}},
    {"transform": [{"fold": ["xl", "xh"], "as": ["k", "xc"]}],
     "mark": {"type": "tick", "orient": "vertical", "clip": true, "size": 5, "thickness": 1.6, "opacity": 1},
     "encoding": {"x": {"field": "xc", "type": "quantitative", "axis": null}, "y": {"field": "y", "type": "quantitative", "axis": null}}},
    {"mark": {"type": "square", "clip": true, "size": 36, "opacity": 1},
     "encoding": {"x": {"field": "x", "type": "quantitative", "axis": null}, "y": {"field": "y", "type": "quantitative", "axis": null}}}
   ]}
 ]
}
],
"config": {
 "font": "Liberation Sans",
 "view": {"stroke": "black", "strokeWidth": 1, "fill": null},
 "axis": {"domain": false, "grid": false, "labelFontSize": 10, "labelFontWeight": "bold", "labelColor": "black", "labelFlush": false, "labelOverlap": false, "tickColor": "black", "tickWidth": 1, "titleColor": "black", "titleFontWeight": "bold"},
 "axisX": {"titleFontSize": 10, "titleAnchor": "end", "titlePadding": 0},
 "axisY": {"titleFontSize": 9, "titleAnchor": "end", "titlePadding": 8},
 "legend": {"strokeWidth": 1.5}
}
}
